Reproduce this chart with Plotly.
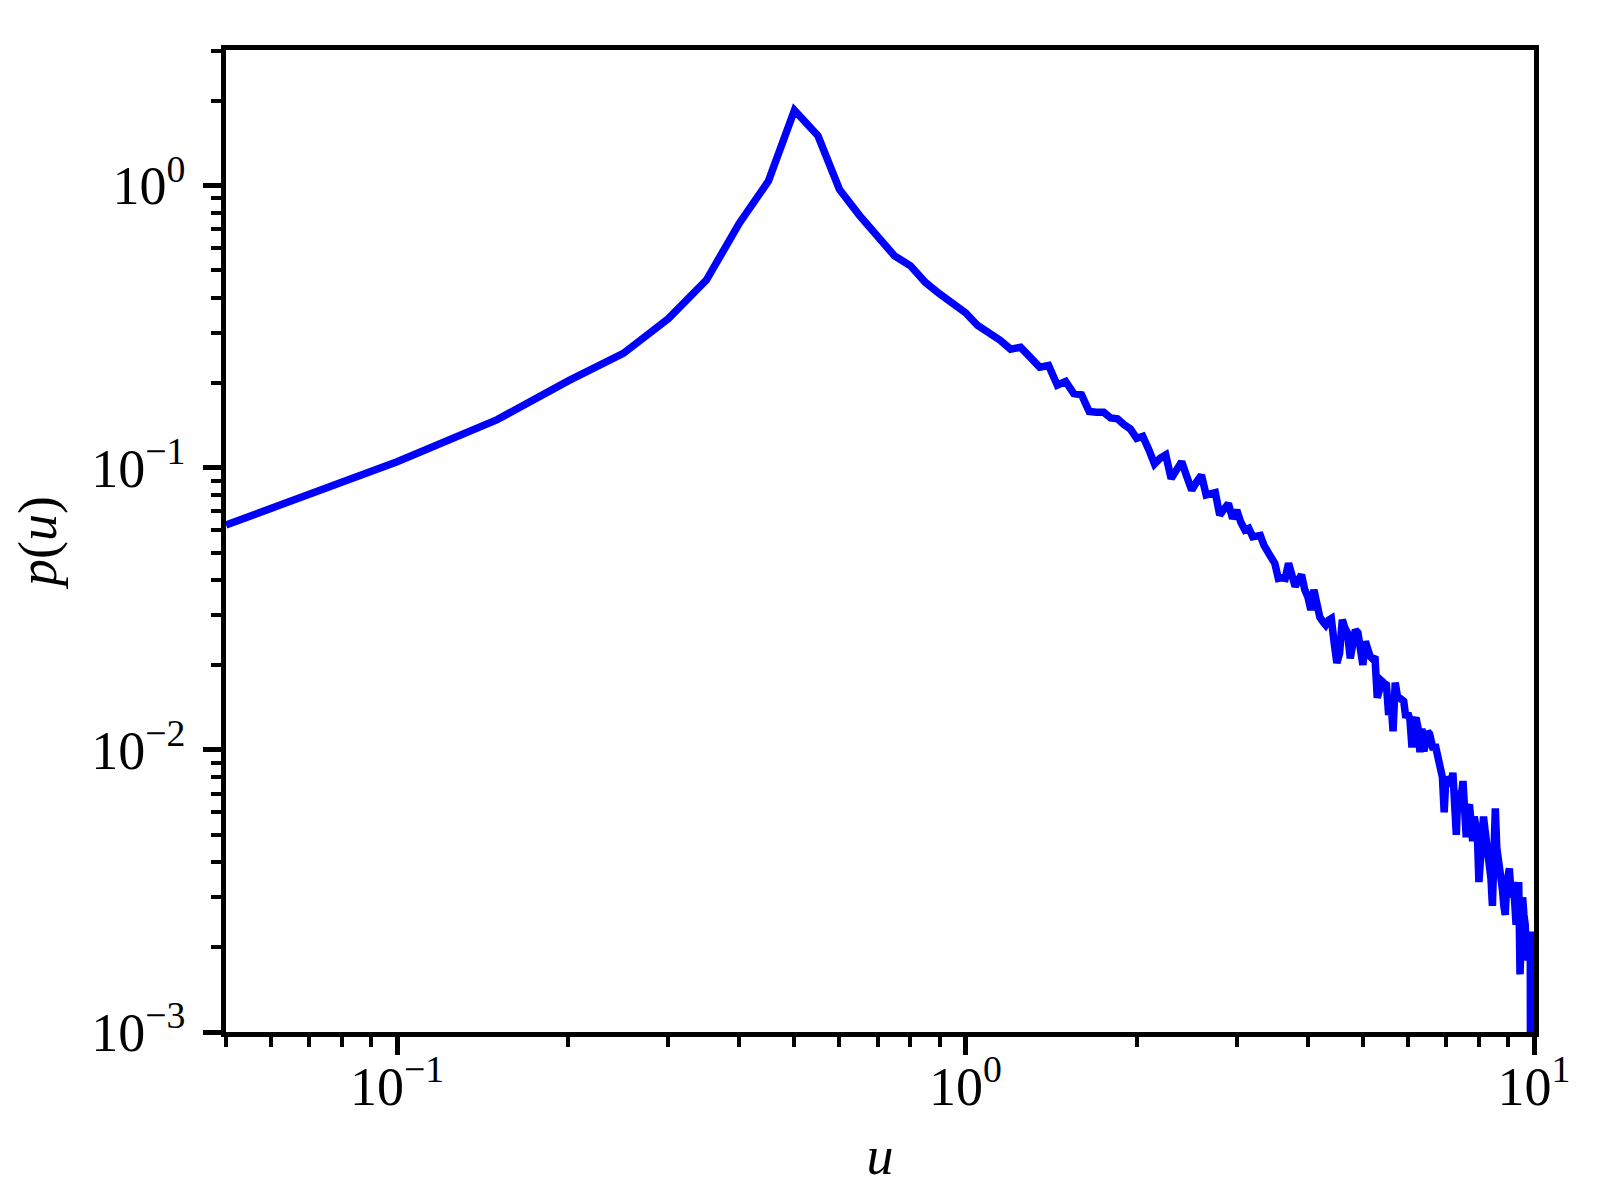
import plotly.graph_objects as go

# bin centres u and estimated density p(u)
u = [
    0.05, 0.10, 0.15, 0.20, 0.25, 0.30, 0.35, 0.40, 0.45, 0.50,
    0.55, 0.60, 0.65, 0.70, 0.75, 0.80, 0.85, 0.90, 0.95, 1.00,
    1.05, 1.10, 1.15, 1.20, 1.25, 1.30, 1.35, 1.40, 1.45, 1.50,
    1.55, 1.60, 1.65, 1.70, 1.75, 1.80, 1.85, 1.90, 1.95, 2.00,
    2.05, 2.10, 2.15, 2.20, 2.25, 2.30, 2.35, 2.40, 2.45, 2.50,
    2.55, 2.60, 2.65, 2.70, 2.75, 2.80, 2.85, 2.90, 2.95, 3.00,
    3.05, 3.10, 3.15, 3.20, 3.25, 3.30, 3.35, 3.40, 3.45, 3.50,
    3.55, 3.60, 3.65, 3.70, 3.75, 3.80, 3.85, 3.90, 3.95, 4.00,
    4.05, 4.10, 4.15, 4.20, 4.25, 4.30, 4.35, 4.40, 4.45, 4.50,
    4.55, 4.60, 4.65, 4.70, 4.75, 4.80, 4.85, 4.90, 4.95, 5.00,
    5.05, 5.10, 5.15, 5.20, 5.25, 5.30, 5.35, 5.40, 5.45, 5.50,
    5.55, 5.60, 5.65, 5.70, 5.75, 5.80, 5.85, 5.90, 5.95, 6.00,
    6.05, 6.10, 6.15, 6.20, 6.25, 6.30, 6.35, 6.40, 6.45, 6.50,
    6.55, 6.60, 6.65, 6.70, 6.75, 6.80, 6.85, 6.90, 6.95, 7.00,
    7.05, 7.10, 7.15, 7.20, 7.25, 7.30, 7.35, 7.40, 7.45, 7.50,
    7.55, 7.60, 7.65, 7.70, 7.75, 7.80, 7.85, 7.90, 7.95, 8.00,
    8.05, 8.10, 8.15, 8.20, 8.25, 8.30, 8.35, 8.40, 8.45, 8.50,
    8.55, 8.60, 8.65, 8.70, 8.75, 8.80, 8.85, 8.90, 8.95, 9.00,
    9.05, 9.10, 9.15, 9.20, 9.25, 9.30, 9.35, 9.40, 9.45, 9.50,
    9.55, 9.60, 9.65, 9.70, 9.75, 9.80, 9.85, 9.90,
]

p_head = [  # 0.05 .. 1.00
    0.0626, 0.105, 0.148, 0.203, 0.254, 0.337, 0.462, 0.735, 1.036, 1.846,
    1.50, 0.968, 0.785, 0.663, 0.563, 0.519, 0.453, 0.413, 0.382, 0.354,
]
p_mid = [  # 1.05 .. 4.00
    0.319, 0.302, 0.283, 0.263, 0.267, 0.246, 0.227, 0.230, 0.196, 0.202,
    0.183, 0.181, 0.158, 0.157, 0.157, 0.150, 0.149, 0.142, 0.137, 0.127,
    0.129, 0.116, 0.103, 0.108, 0.111, 0.0914, 0.098, 0.105, 0.093, 0.0832,
    0.089, 0.094, 0.080, 0.081, 0.0816, 0.0679, 0.071, 0.0746, 0.066, 0.0707,
    0.064, 0.0601, 0.0609, 0.0569, 0.0572, 0.0575, 0.053, 0.0497, 0.048, 0.0458,
    0.0405, 0.0407, 0.0405, 0.0458, 0.041, 0.0379, 0.040, 0.0417, 0.037, 0.0349,
]
p_tail = [  # 4.05 .. 9.90
    0.0313, 0.0369, 0.033, 0.0295, 0.0285, 0.0277, 0.0288, 0.0292, 0.024, 0.0203,
    0.022, 0.0289, 0.027, 0.0259, 0.0211, 0.023, 0.0266, 0.026, 0.022, 0.0200,
    0.0242, 0.022, 0.0214, 0.021, 0.0214, 0.0153, 0.017, 0.0175, 0.0172, 0.0170,
    0.0133, 0.0150, 0.01164, 0.0173, 0.0155, 0.0153, 0.0150, 0.01486, 0.0130, 0.0135,
    0.0128, 0.0102, 0.0126, 0.0130, 0.0120, 0.0098, 0.0119, 0.0099, 0.0105, 0.0116,
    0.0114, 0.0105, 0.0100, 0.01045, 0.0098, 0.0091, 0.0088, 0.0080, 0.0060, 0.0080,
    0.0078, 0.0077, 0.0075, 0.0083, 0.0068, 0.0050, 0.0072, 0.0070, 0.0068, 0.00775,
    0.0060, 0.0049, 0.0062, 0.0064, 0.0055, 0.00475, 0.0058, 0.0055, 0.0050, 0.0034,
    0.0045, 0.0048, 0.0058, 0.0052, 0.0048, 0.0045, 0.0040, 0.0035, 0.0028, 0.0040,
    0.0062, 0.0045, 0.0042, 0.0040, 0.0035, 0.0032, 0.0028, 0.0026, 0.0033, 0.0036,
    0.0038, 0.0032, 0.0030, 0.0034, 0.0028, 0.0024, 0.0030, 0.0034, 0.0016, 0.0028,
    0.0030, 0.0026, 0.0024, 0.0019, 0.0018, 0.0022, 0.0022, 0.0,
]
p = p_head + p_mid + p_tail

x_ticks = [0.1, 1, 10]
x_ticktext = ["10<sup>\u22121</sup>", "10<sup>0</sup>", "10<sup>1</sup>"]
y_ticks = [0.001, 0.01, 0.1, 1]
y_ticktext = ["10<sup>\u22123</sup>", "10<sup>\u22122</sup>",
              "10<sup>\u22121</sup>", "10<sup>0</sup>"]

x_minor = [m * d for d in (0.01, 0.1, 1) for m in range(2, 10) if 0.05 <= m * d < 10]
y_minor = [m * d for d in (0.001, 0.01, 0.1, 1) for m in range(2, 10) if m * d <= 3]

# like matplotlib, clip non-positive values instead of dropping them
p_plot = [v if v > 0 else 1e-6 for v in p]

FONT = "Liberation Serif"

fig = go.Figure()
fig.add_trace(go.Scatter(
    x=u, y=p_plot, mode="lines",
    line=dict(color="#0000ff", width=7.5),
    showlegend=False,
))

axis_common = dict(
    type="log",
    showline=True, linecolor="black", linewidth=4.5, mirror=True,
    showgrid=False, zeroline=False,
    ticks="outside", ticklen=18, tickwidth=4.5, tickcolor="black",
    tickfont=dict(family=FONT, size=54, color="black"),
    tickmode="array",
)

# the page body adds a small offset, margins compensate for it
fig.update_layout(
    width=1600, height=1200,
    paper_bgcolor="white", plot_bgcolor="white",
    margin=dict(l=218, r=74, t=42, b=176),
    font=dict(family=FONT, color="black"),
    xaxis=dict(
        axis_common,
        range=[-1.30103, 1],
        tickvals=x_ticks, ticktext=x_ticktext,
        ticklabelstandoff=-15,
        minor=dict(tickmode="array", tickvals=x_minor, ticks="outside",
                   ticklen=10, tickwidth=3.5, tickcolor="black"),
        title=dict(text="<i>u</i>", font=dict(family=FONT, size=54), standoff=22),
    ),
    yaxis=dict(
        axis_common,
        range=[-3, 0.48],
        tickvals=y_ticks, ticktext=y_ticktext,
        ticklabelstandoff=7,
        minor=dict(tickmode="array", tickvals=y_minor, ticks="outside",
                   ticklen=10, tickwidth=3.5, tickcolor="black"),
        title=dict(text="<i>p</i>(<i>u</i>)", font=dict(family=FONT, size=54), standoff=28),
    ),
)

fig.write_html("out.html")
